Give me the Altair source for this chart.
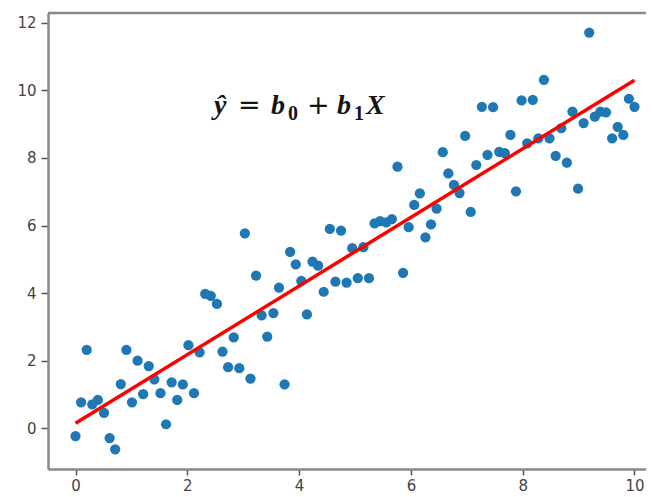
import altair as alt
import pandas as pd

x_vals = [0.00, 0.10, 0.20, 0.30, 0.40, 0.51, 0.61, 0.71, 0.81, 0.91,
          1.01, 1.11, 1.21, 1.31, 1.41, 1.52, 1.62, 1.72, 1.82, 1.92,
          2.02, 2.12, 2.22, 2.32, 2.42, 2.53, 2.63, 2.73, 2.83, 2.93,
          3.03, 3.13, 3.23, 3.33, 3.43, 3.54, 3.64, 3.74, 3.84, 3.94,
          4.04, 4.14, 4.24, 4.34, 4.44, 4.55, 4.65, 4.75, 4.85, 4.95,
          5.05, 5.15, 5.25, 5.35, 5.45, 5.56, 5.66, 5.76, 5.86, 5.96,
          6.06, 6.16, 6.26, 6.36, 6.46, 6.57, 6.67, 6.77, 6.87, 6.97,
          7.07, 7.17, 7.27, 7.37, 7.47, 7.58, 7.68, 7.78, 7.88, 7.98,
          8.08, 8.18, 8.28, 8.38, 8.48, 8.59, 8.69, 8.79, 8.89, 8.99,
          9.09, 9.19, 9.29, 9.39, 9.49, 9.60, 9.70, 9.80, 9.90, 10.00]

y_vals = [-0.23, 0.77, 2.32, 0.71, 0.84, 0.46, -0.29, -0.62, 1.31, 2.32,
          0.77, 2.00, 1.01, 1.84, 1.45, 1.04, 0.12, 1.36, 0.84, 1.30,
          2.46, 1.04, 2.25, 3.98, 3.92, 3.68, 2.27, 1.81, 2.69, 1.78,
          5.77, 1.47, 4.52, 3.34, 2.71, 3.41, 4.16, 1.30, 5.22, 4.85,
          4.36, 3.37, 4.93, 4.81, 4.04, 5.90, 4.34, 5.85, 4.31, 5.33,
          4.44, 5.36, 4.44, 6.06, 6.13, 6.09, 6.19, 7.74, 4.60, 5.95,
          6.61, 6.95, 5.65, 6.03, 6.50, 8.17, 7.54, 7.20, 6.96, 8.65,
          6.40, 7.79, 9.51, 8.09, 9.50, 8.18, 8.14, 8.68, 7.01, 9.70,
          8.43, 9.72, 8.58, 10.31, 8.58, 8.06, 8.88, 7.86, 9.37, 7.09,
          9.03, 11.71, 9.22, 9.37, 9.35, 8.58, 8.92, 8.68, 9.75, 9.51]

# fitted regression line end points
line_x = [0.0, 10.0]
line_y = [0.15, 10.30]

# annotation  ŷ = b0 + b1X  (pieces, subscripts separate)
ann_parts = ["ŷ", "=", "b", "0", "+", "b", "1", "X"]
ann_x = [2.478]
ann_y = [9.30]

x_ticks = [0, 2, 4, 6, 8, 10]
y_ticks = [0, 2, 4, 6, 8, 10, 12]

pts = pd.DataFrame({"x": x_vals, "y": y_vals})
line_df = pd.DataFrame({"x": line_x, "y": line_y})
anchor_df = pd.DataFrame({"x": ann_x, "y": ann_y})

W, H = 598, 456
xs = alt.Scale(domain=[-0.492, 10.206], nice=False, zero=False)
ys = alt.Scale(domain=[-1.204, 12.287], nice=False, zero=False)

x_axis = alt.Axis(values=x_ticks, title=None, grid=False, tickSize=6,
                  labelPadding=3, format="d")
y_axis = alt.Axis(values=y_ticks, title=None, grid=False, tickSize=7,
                  labelPadding=5, format="d")

points = alt.Chart(pts).mark_circle(size=105, color="#1f77b4", opacity=1).encode(
    x=alt.X("x:Q", scale=xs, axis=x_axis),
    y=alt.Y("y:Q", scale=ys, axis=y_axis),
)

fit = alt.Chart(line_df).mark_line(color="#ff0000", strokeWidth=3.5).encode(
    x=alt.X("x:Q", scale=xs),
    y=alt.Y("y:Q", scale=ys),
)


def piece(i, dx, dy=0, size=28, weight="bold", style="italic",
          font="Liberation Serif"):
    return alt.Chart(anchor_df).mark_text(
        text=ann_parts[i], dx=dx, dy=dy, font=font, fontSize=size,
        fontWeight=weight, fontStyle=style, align="left",
        baseline="alphabetic", color="#151515",
    ).encode(x=alt.X("x:Q", scale=xs), y=alt.Y("y:Q", scale=ys))


label_layers = [
    piece(0, 0, size=28),
    piece(1, 24, size=27, weight="normal", style="normal", font="DejaVu Sans"),
    piece(2, 57),
    piece(3, 74, dy=6, size=20, style="normal"),
    piece(4, 93, size=27, weight="normal", style="normal", font="DejaVu Sans"),
    piece(5, 123),
    piece(6, 140, dy=6, size=20, style="normal"),
    piece(7, 152, size=28),
]

top_frame = alt.Chart(anchor_df).mark_rule(color="#888", strokeWidth=2.5).encode(
    x=alt.value(0), x2=alt.value(W), y=alt.value(0)
)

chart = alt.layer(points, fit, *label_layers, top_frame).properties(
    width=W, height=H,
    autosize=alt.AutoSizeParams(type="none"),
    padding={"left": 40, "top": 5, "right": 0, "bottom": 26},
).configure_view(stroke=None).configure_axis(
    domainColor="#888", domainWidth=2.5, tickColor="#555", tickWidth=1.5,
    labelColor="#444", labelFont="DejaVu Sans", labelFontSize=15,
)

chart.save("out.html", embed_options={"renderer": "svg", "actions": False})
